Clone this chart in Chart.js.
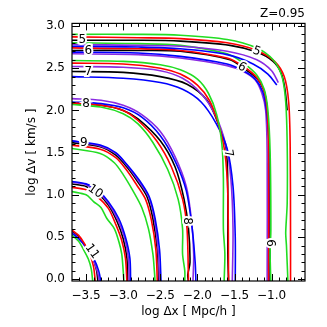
<!DOCTYPE html>
<html>
<head>
<meta charset="utf-8">
<script src="https://cdn.jsdelivr.net/npm/chart.js@4.4.0/dist/chart.umd.min.js"></script>
<style>
html, body { margin: 0; padding: 0; background: #fff; }
#wrap { width: 327px; height: 327px; }
</style>
</head>
<body>
<div id="wrap"><canvas id="chart1"></canvas></div>
<script>
const xTicks = [-3.5, -3.0, -2.5, -2.0, -1.5, -1.0];
const yTicks = [0.0, 0.5, 1.0, 1.5, 2.0, 2.5, 3.0];
const colours = { green: '#22dd22', red: '#ff0000', blue: '#0000ff', purple: '#8a2be2', black: '#000000' };

// contour lines, [log dx, log dv]
const green5 = [[-3.7,2.90],[-2.8,2.90],[-2.23,2.89],[-1.6,2.84],[-1.2,2.74],[-0.98,2.60],[-0.86,2.40],[-0.81,2.1],[-0.79,1.6],[-0.79,0.9],[-0.81,0.55],[-0.80,0.4],[-0.78,-0.03]];
const red5 = [[-3.7,2.87],[-2.8,2.86],[-2.23,2.85],[-1.6,2.80],[-1.2,2.71],[-0.96,2.58],[-0.83,2.40],[-0.77,2.1],[-0.75,1.6],[-0.745,0.5],[-0.745,-0.03]];
const blue5 = [[-3.7,2.76],[-2.8,2.75],[-2.23,2.73],[-1.6,2.66],[-1.25,2.55],[-1.05,2.43],[-0.93,2.30]];
const purple5 = [[-3.7,2.78],[-2.8,2.77],[-2.23,2.76],[-1.6,2.70],[-1.2,2.60],[-1.0,2.47],[-0.91,2.33]];
const black5 = [[-3.7,2.83],[-2.8,2.83],[-2.23,2.82],[-1.56,2.77],[-1.2,2.69],[-0.98,2.58],[-0.87,2.44],[-0.82,2.25],[-0.79,2.0]];

const green6 = [[-3.7,2.80],[-2.8,2.79],[-2.23,2.77],[-1.6,2.67],[-1.38,2.56],[-1.2,2.42],[-1.1,2.25],[-1.05,2.0],[-1.02,1.5],[-1.01,0.6],[-1.02,0.3],[-1.01,-0.03]];
const red6 = [[-3.7,2.74],[-2.8,2.73],[-2.23,2.71],[-1.6,2.62],[-1.38,2.52],[-1.2,2.39],[-1.1,2.23],[-1.06,2.0],[-1.04,1.5],[-1.04,-0.03]];
const blue6 = [[-3.7,2.69],[-2.8,2.68],[-2.23,2.64],[-1.6,2.55],[-1.38,2.47],[-1.22,2.37],[-1.12,2.22],[-1.07,2.0],[-1.03,1.5],[-1.02,-0.03]];
const purple6 = [[-3.7,2.67],[-2.8,2.66],[-2.23,2.62],[-1.6,2.53],[-1.38,2.46],[-1.22,2.36],[-1.13,2.2],[-1.08,2.0],[-1.06,1.5],[-1.06,-0.03]];
const black6 = [[-3.7,2.71],[-2.8,2.71],[-2.23,2.70],[-1.56,2.60],[-1.38,2.50],[-1.2,2.38],[-1.11,2.25],[-1.07,2.09],[-1.04,1.7],[-1.03,0.5],[-1.02,-0.03]];

const green7 = [[-3.7,2.59],[-3.0,2.58],[-2.5,2.54],[-2.23,2.48],[-2.0,2.37],[-1.85,2.2],[-1.74,1.95],[-1.67,1.6],[-1.65,1.2],[-1.65,0.6],[-1.63,0.3],[-1.64,-0.03]];
const red7 = [[-3.7,2.56],[-3.0,2.55],[-2.5,2.50],[-2.23,2.43],[-2.0,2.30],[-1.84,2.12],[-1.72,1.85],[-1.63,1.5],[-1.59,1.0],[-1.58,-0.03]];
const blue7 = [[-3.7,2.40],[-3.0,2.38],[-2.5,2.33],[-2.2,2.25],[-1.95,2.1],[-1.75,1.85],[-1.6,1.55],[-1.52,1.1],[-1.49,0.5],[-1.49,-0.03]];
const purple7 = [[-3.7,2.52],[-3.0,2.51],[-2.5,2.47],[-2.2,2.38],[-1.95,2.2],[-1.75,1.93],[-1.62,1.6],[-1.55,1.2],[-1.52,0.6],[-1.53,-0.03]];
const black7 = [[-3.7,2.46],[-3.0,2.45],[-2.5,2.40],[-2.14,2.31],[-1.87,2.12],[-1.70,1.80],[-1.61,1.53],[-1.59,1.0],[-1.59,0.3],[-1.58,-0.03]];

const green8 = [[-3.7,2.07],[-3.3,2.04],[-3.0,1.96],[-2.8,1.84],[-2.6,1.62],[-2.4,1.3],[-2.26,0.95],[-2.20,0.6],[-2.20,0.3],[-2.17,0.1],[-2.17,-0.03]];
const red8 = [[-3.7,2.09],[-3.3,2.06],[-3.0,2.00],[-2.8,1.88],[-2.55,1.64],[-2.35,1.33],[-2.2,0.95],[-2.14,0.6],[-2.12,-0.03]];
const blue8 = [[-3.7,2.10],[-3.3,2.08],[-3.0,2.03],[-2.75,1.92],[-2.5,1.70],[-2.3,1.40],[-2.15,1.05],[-2.07,0.6],[-2.03,0.2],[-2.02,-0.03]];
const purple8 = [[-3.7,2.14],[-3.3,2.12],[-3.0,2.06],[-2.75,1.95],[-2.5,1.75],[-2.3,1.45],[-2.15,1.1],[-2.08,0.7],[-2.05,0.3],[-2.06,-0.03]];
const black8 = [[-3.7,2.08],[-3.3,2.06],[-3.0,2.00],[-2.8,1.90],[-2.5,1.64],[-2.3,1.33],[-2.18,0.95],[-2.12,0.6],[-2.10,0.2],[-2.13,0.05],[-2.12,-0.03]];

const green9 = [[-3.7,1.55],[-3.31,1.49],[-3.12,1.38],[-3.0,1.24],[-2.87,1.05],[-2.75,0.85],[-2.66,0.6],[-2.60,0.3],[-2.58,0.1],[-2.57,-0.03]];
const red9 = [[-3.7,1.59],[-3.31,1.54],[-3.1,1.44],[-2.96,1.30],[-2.82,1.12],[-2.70,0.95],[-2.62,0.70],[-2.56,0.35],[-2.54,-0.03]];
const blue9 = [[-3.7,1.64],[-3.31,1.59],[-3.1,1.50],[-2.95,1.36],[-2.78,1.17],[-2.65,0.98],[-2.57,0.72],[-2.51,0.35],[-2.49,-0.03]];
const purple9 = [[-3.7,1.64],[-3.31,1.58],[-3.1,1.49],[-2.95,1.35],[-2.79,1.16],[-2.66,0.98],[-2.58,0.72],[-2.53,0.35],[-2.51,-0.03]];
const black9 = [[-3.7,1.62],[-3.31,1.57],[-3.1,1.47],[-2.95,1.33],[-2.8,1.15],[-2.68,0.98],[-2.6,0.72],[-2.54,0.35],[-2.52,-0.03]];

const green10 = [[-3.7,1.04],[-3.5,1.0],[-3.4,0.92],[-3.3,0.85],[-3.22,0.72],[-3.12,0.6],[-3.06,0.45],[-3.02,0.3],[-3.0,0.1],[-2.99,-0.03]];
const red10 = [[-3.7,1.09],[-3.5,1.06],[-3.35,0.98],[-3.2,0.84],[-3.1,0.65],[-3.02,0.46],[-2.97,0.25],[-2.95,-0.03]];
const blue10 = [[-3.7,1.16],[-3.5,1.13],[-3.35,1.06],[-3.2,0.92],[-3.06,0.72],[-2.97,0.5],[-2.91,0.25],[-2.90,-0.03]];
const purple10 = [[-3.7,1.15],[-3.5,1.12],[-3.35,1.04],[-3.2,0.90],[-3.07,0.70],[-2.98,0.49],[-2.93,0.25],[-2.92,-0.03]];
const black10 = [[-3.7,1.13],[-3.5,1.10],[-3.35,1.02],[-3.2,0.88],[-3.08,0.68],[-3.0,0.48],[-2.95,0.25],[-2.94,-0.03]];

const green11 = [[-3.7,0.53],[-3.6,0.45],[-3.54,0.36],[-3.47,0.24],[-3.43,0.12],[-3.41,-0.03]];
const red11 = [[-3.7,0.59],[-3.6,0.52],[-3.52,0.42],[-3.45,0.30],[-3.40,0.15],[-3.375,-0.03]];
const blue11 = [[-3.7,0.55],[-3.6,0.48],[-3.51,0.39],[-3.40,0.25],[-3.33,0.10],[-3.30,-0.03]];
const purple11 = [[-3.7,0.56],[-3.6,0.49],[-3.52,0.40],[-3.42,0.26],[-3.35,0.10],[-3.32,-0.03]];
const black11 = [[-3.7,0.57],[-3.6,0.50],[-3.53,0.42],[-3.42,0.27],[-3.36,0.11],[-3.34,-0.03]];

// contour labels
const labelText = ['5', '6', '7', '8', '9', '10', '11', '5', '6', '7', '8', '6'];
const labelX = [-3.55, -3.47, -3.47, -3.50, -3.53, -3.375, -3.42, -1.20, -1.40, -1.585, -2.14, -1.025];
const labelY = [2.84, 2.71, 2.46, 2.08, 1.62, 1.04, 0.33, 2.70, 2.51, 1.49, 0.69, 0.43];
const labelRot = [0, 0, 0, 0, 0, 35, 55, 20, 30, 80, 90, 90];

const curves = [
    ['green', green5], ['red', red5], ['blue', blue5], ['purple', purple5], ['black', black5],
    ['green', green6], ['red', red6], ['blue', blue6], ['purple', purple6], ['black', black6],
    ['green', green7], ['red', red7], ['blue', blue7], ['purple', purple7], ['black', black7],
    ['green', green8], ['red', red8], ['blue', blue8], ['purple', purple8], ['black', black8],
    ['green', green9], ['red', red9], ['blue', blue9], ['purple', purple9], ['black', black9],
    ['green', green10], ['red', red10], ['blue', blue10], ['purple', purple10], ['black', black10],
    ['green', green11], ['red', red11], ['blue', blue11], ['purple', purple11], ['black', black11]
];

const datasets = curves.map(c => ({
    data: c[1].map(p => ({ x: p[0], y: p[1] })),
    borderColor: colours[c[0]],
    borderWidth: 1.6,
    pointRadius: 0,
    showLine: true,
    tension: 0.3,
    fill: false
}));

const fmt = v => v.toFixed(1).replace('-', '\u2212');
const font = 'DejaVu Sans';

// box, inward ticks on all four sides, contour labels
const frame = {
    id: 'frame',
    afterDatasetsDraw(chart) {
        const { ctx, chartArea: a, scales: { x, y } } = chart;
        ctx.save();
        ctx.strokeStyle = '#000';
        ctx.lineWidth = 1.2;
        ctx.strokeRect(a.left, a.top, a.right - a.left, a.bottom - a.top);
        ctx.lineWidth = 1;
        ctx.beginPath();
        for (let i = -36; i <= -6; i++) {
            const px = Math.round(x.getPixelForValue(i / 10)) + 0.5;
            const len = i % 5 === 0 ? 7 : 3.5;
            ctx.moveTo(px, a.bottom); ctx.lineTo(px, a.bottom - len);
            ctx.moveTo(px, a.top); ctx.lineTo(px, a.top + len);
        }
        for (let i = 0; i <= 30; i++) {
            const py = Math.round(y.getPixelForValue(i / 10)) + 0.5;
            const len = i % 5 === 0 ? 7 : 3.5;
            ctx.moveTo(a.left, py); ctx.lineTo(a.left + len, py);
            ctx.moveTo(a.right, py); ctx.lineTo(a.right - len, py);
        }
        ctx.stroke();

        ctx.font = '12px ' + font;
        ctx.textAlign = 'center';
        ctx.textBaseline = 'middle';
        labelText.forEach((t, i) => {
            ctx.save();
            ctx.translate(x.getPixelForValue(labelX[i]), y.getPixelForValue(labelY[i]));
            ctx.rotate(labelRot[i] * Math.PI / 180);
            ctx.lineWidth = 4;
            ctx.strokeStyle = '#fff';
            ctx.strokeText(t, 0, 0);
            ctx.fillStyle = '#000';
            ctx.fillText(t, 0, 0);
            ctx.restore();
        });
        ctx.restore();
    }
};

new Chart(document.getElementById('chart1'), {
    type: 'scatter',
    data: { datasets: datasets },
    options: {
        responsive: true,
        maintainAspectRatio: false,
        animation: false,
        layout: { padding: { left: 0, right: 22, top: 0, bottom: 0 } },
        plugins: {
            legend: { display: false },
            tooltip: { enabled: false },
            title: {
                display: true,
                text: 'Z=0.95',
                align: 'end',
                color: '#000',
                font: { family: font, size: 12, weight: 'normal' },
                padding: { top: 7, bottom: 2 }
            }
        },
        scales: {
            x: {
                type: 'linear',
                min: -3.69,
                max: -0.55,
                grid: { display: false, drawTicks: false },
                border: { display: false },
                afterBuildTicks: s => { s.ticks = xTicks.map(v => ({ value: v })); },
                afterFit: s => { s.height = 46; },
                ticks: { color: '#000', font: { family: font, size: 12 }, padding: 8, maxRotation: 0, callback: v => fmt(v) },
                title: { display: true, text: 'log \u0394x [ Mpc/h ]', color: '#000', font: { family: font, size: 12 }, padding: { top: 8, bottom: 8 } }
            },
            y: {
                type: 'linear',
                min: -0.02,
                max: 3.03,
                grid: { display: false, drawTicks: false },
                border: { display: false },
                afterBuildTicks: s => { s.ticks = yTicks.map(v => ({ value: v })); },
                afterFit: s => { s.width = 72; },
                ticks: { color: '#000', font: { family: font, size: 12 }, padding: 7, callback: v => fmt(v) },
                title: { display: true, text: 'log \u0394v [ km/s ]', color: '#000', font: { family: font, size: 12 }, padding: { top: 25, bottom: 0 } }
            }
        }
    },
    plugins: [frame]
});
</script>
</body>
</html>
